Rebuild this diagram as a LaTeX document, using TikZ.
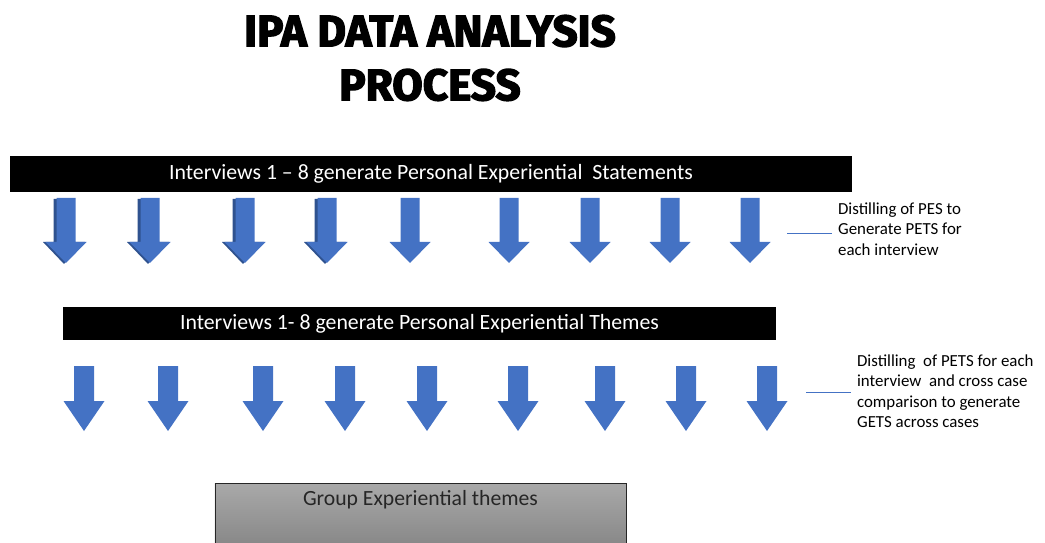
\documentclass[tikz,border=0pt]{standalone}
\usepackage{fontspec}
\setmainfont{Carlito}
\newfontfamily\titlefont{Fira Sans}[BoldFeatures={FakeBold=3}]
\usetikzlibrary{positioning}

\definecolor{arrowblue}{HTML}{4472C4}
\definecolor{arrowedge}{HTML}{2F528F}
\definecolor{boxtop}{HTML}{A9A9A9}
\definecolor{boxbottom}{HTML}{7E7E7E}
\definecolor{boxtext}{HTML}{262626}

\begin{document}
\begin{tikzpicture}[x=0.03cm, y=-0.03cm,
    bar/.style={fill=black, text=white, inner sep=0pt, font=\fontsize{18.6}{22}\selectfont},
    note/.style={anchor=west, align=left, inner xsep=5pt, font=\fontsize{14.4}{17.5}\selectfont},
    noteline/.style={draw=arrowblue, line width=0.6pt},
    blockarrow/.style={fill=arrowblue}]

    \useasboundingbox (0,0) rectangle (1045,543);

    % title
    \node[align=center, font=\titlefont\bfseries\fontsize{37.6}{46}\selectfont] (title) at (430,58)
        {IPA DATA ANALYSIS\\PROCESS};

    % the two black bars and the grey box at the bottom
    \node[bar, minimum width=25.26cm, minimum height=1.08cm] (pes) at (431,174)
        {Interviews 1 -- 8 generate Personal Experiential\ \ Statements};
    \node[bar, minimum width=21.39cm, minimum height=0.99cm] (pets) at (419.5,323.5)
        {Interviews 1- 8 generate Personal Experiential Themes};
    \node[draw=boxtext, line width=0.6pt, top color=boxtop, bottom color=boxbottom,
          minimum width=12.33cm, minimum height=2.4cm] (gets) at (420.5,523) {};
    \node[below=3pt of gets.north, text=boxtext, font=\fontsize{18.5}{22}\selectfont] (getslabel)
        {Group Experiential themes};

    % first row of arrows, the left four with a darker edge
    \foreach \x in {66,150,245,327} {
        \fill[arrowedge] (\x-12.5,199) -- (\x+7.5,199) -- (\x+7.5,242) -- (\x+19,242)
            -- (\x-2,264) -- (\x-23,242) -- (\x-12.5,242) -- cycle;
    }
    \foreach \x in {66,150,245,327,410,509,590,670,750} {
        \fill[blockarrow] (\x-9.5,198) -- (\x+9.5,198) -- (\x+9.5,242) -- (\x+20.5,242)
            -- (\x,263) -- (\x-20.5,242) -- (\x-9.5,242) -- cycle;
    }

    % second row of arrows
    \foreach \x in {84,168,263,345,427,518,605,686,767} {
        \fill[blockarrow] (\x-10,366) -- (\x+10,366) -- (\x+10,401) -- (\x+20.5,401)
            -- (\x,431) -- (\x-20.5,401) -- (\x-10,401) -- cycle;
    }

    % side notes
    \node[note] (note1) at (832,229)
        {Distilling of PES to\\Generate PETS for\\each interview};
    \node[note] (note2) at (851,391)
        {Distilling\ \ of PETS for each\\interview\ \ and cross case\\comparison to generate\\GETS across cases};
    \coordinate (n1) at (787,233);
    \coordinate (n2) at (806,392);
    \draw[noteline] (n1) -- (n1 -| note1.west);
    \draw[noteline] (n2) -- (n2 -| note2.west);
\end{tikzpicture}
\end{document}
